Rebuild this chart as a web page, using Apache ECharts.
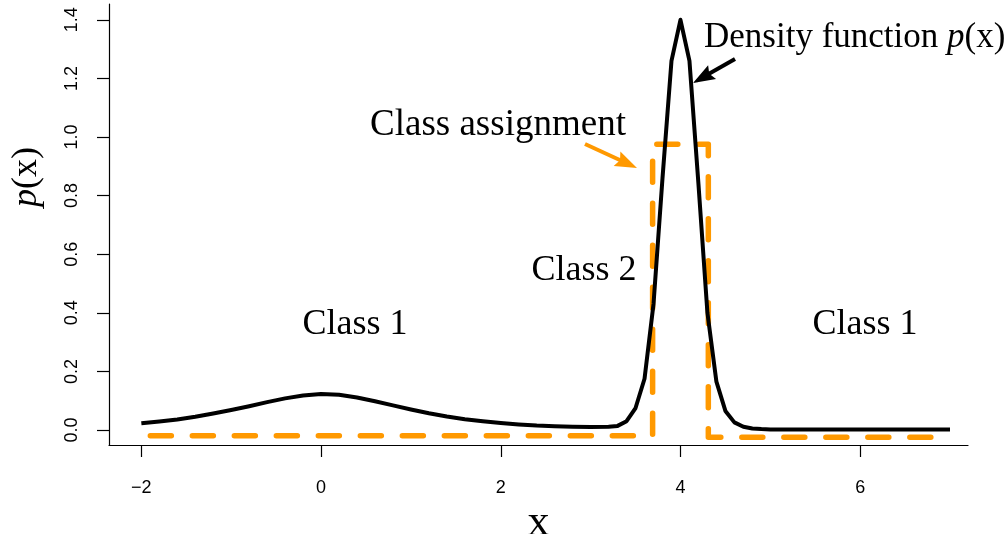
<!DOCTYPE html>
<html>
<head>
<meta charset="utf-8">
<script src="https://cdn.jsdelivr.net/npm/echarts@6/dist/echarts.min.js"></script>
<style>
  html, body { margin: 0; padding: 0; background: #fff; }
  #chart { width: 1008px; height: 534px; }
</style>
</head>
<body>
<div id="chart"></div>
<script>
// Mixture density p(x): broad component around 0, narrow peak at 4
const densityX = [-2.0, -1.8, -1.6, -1.4, -1.2, -1.0, -0.8, -0.6, -0.4, -0.2,
                  0.0, 0.2, 0.4, 0.6, 0.8, 1.0, 1.2, 1.4, 1.6, 1.8,
                  2.0, 2.2, 2.4, 2.6, 2.8, 3.0, 3.2, 3.3, 3.4, 3.5,
                  3.6, 3.7, 3.8, 3.9, 4.0, 4.1, 4.2, 4.3, 4.4, 4.5,
                  4.6, 4.7, 4.8, 4.9, 5.0, 6.0, 7.0];
const densityY = [0.023, 0.029, 0.036, 0.045, 0.056, 0.068, 0.081, 0.095, 0.108, 0.118,
                  0.123, 0.120, 0.111, 0.098, 0.084, 0.070, 0.057, 0.046, 0.037, 0.030,
                  0.024, 0.019, 0.015, 0.013, 0.011, 0.010, 0.011, 0.014, 0.030, 0.075,
                  0.175, 0.430, 0.860, 1.260, 1.400, 1.260, 0.840, 0.400, 0.165, 0.065,
                  0.026, 0.011, 0.005, 0.003, 0.002, 0.002, 0.002];

// Class assignment (drawn slightly offset from 0 / 1)
const classX = [-1.9, 3.69, 3.69, 4.31, 4.31, 6.9];
const classY = [-0.02, -0.02, 0.975, 0.975, -0.025, -0.025];

// Axis ticks
const xTicks = [-2, 0, 2, 4, 6];
const yTicks = [0, 0.2, 0.4, 0.6, 0.8, 1.0, 1.2, 1.4];

const ORANGE = '#FF9900';
const SERIF = 'Liberation Serif';
const SANS = 'Liberation Sans';

function pairs(xs, ys) { return xs.map((x, i) => [x, ys[i]]); }

// Filled arrow (shaft + triangular head) in pixel space
function arrow(x1, y1, x2, y2, color, width, headLen, headHalf) {
  const dx = x2 - x1, dy = y2 - y1;
  const len = Math.sqrt(dx * dx + dy * dy);
  const ux = dx / len, uy = dy / len;
  const nx = -uy, ny = ux;
  const bx = x2 - ux * headLen, by = y2 - uy * headLen;
  const notch = headLen * 0.15;
  return [
    { type: 'line', silent: true, z: 50,
      shape: { x1: x1, y1: y1, x2: bx + ux * notch * 2, y2: by + uy * notch * 2 },
      style: { stroke: color, lineWidth: width, lineCap: 'butt' } },
    { type: 'polygon', silent: true, z: 51,
      shape: { points: [[x2, y2],
                        [bx + nx * headHalf, by + ny * headHalf],
                        [bx + ux * notch, by + uy * notch],
                        [bx - nx * headHalf, by - ny * headHalf]] },
      style: { fill: color } }
  ];
}

function label(text, x, y, align, size) {
  const fs = size || 36;
  return { type: 'text', silent: true, z: 60, x: x, y: y,
    style: { text: text, fill: '#000', fontFamily: SERIF, fontSize: fs,
             align: align || 'center', verticalAlign: 'middle',
             rich: { i: { fontFamily: SERIF, fontStyle: 'italic', fontSize: fs },
                     r: { fontFamily: SERIF, fontSize: fs } } } };
}

const chart = echarts.init(document.getElementById('chart'), null, { renderer: 'canvas' });

chart.setOption({
  animation: false,
  backgroundColor: '#fff',
  grid: { left: 109, right: 40, top: 4, bottom: 89, containLabel: false, outerBoundsMode: 'none' },
  xAxis: {
    type: 'value', min: -2.36, max: 7.2,
    axisLine: { show: true, onZero: false, lineStyle: { color: '#000', width: 1.2 } },
    axisTick: { show: true, customValues: xTicks, length: 12, lineStyle: { color: '#000', width: 1.2 } },
    axisLabel: { customValues: xTicks, margin: 34, color: '#000', fontFamily: SANS, fontSize: 18,
                 formatter: v => (v < 0 ? '\u2212' + Math.abs(v) : String(v)) },
    splitLine: { show: false },
    name: 'x', nameLocation: 'middle', nameGap: 40,
    nameTextStyle: { fontFamily: SERIF, fontSize: 44, color: '#000' }
  },
  yAxis: {
    type: 'value', min: -0.0512, max: 1.454,
    axisLine: { show: true, onZero: false, lineStyle: { color: '#000', width: 1.2 } },
    axisTick: { show: true, customValues: yTicks, length: 12, lineStyle: { color: '#000', width: 1.2 } },
    axisLabel: { customValues: yTicks, rotate: 90, margin: 28, color: '#000', fontFamily: SANS, fontSize: 18,
                 formatter: v => v.toFixed(1) },
    splitLine: { show: false }
  },
  series: [
    {
      name: 'Class assignment', type: 'line', data: pairs(classX, classY),
      showSymbol: false, silent: true, z: 2,
      lineStyle: { color: ORANGE, width: 5.5, type: [21, 21], cap: 'round', join: 'round' }
    },
    {
      name: 'Density function', type: 'line', data: pairs(densityX, densityY),
      showSymbol: false, silent: true, z: 3,
      lineStyle: { color: '#000', width: 4, join: 'round' }
    }
  ],
  graphic: [
    label('{r|Density function }{i|p}{r|(x)}', 704, 38, 'left', 35),
    label('Class assignment', 370, 125, 'left', 37),
    label('Class 2', 584, 271),
    label('Class 1', 355, 325),
    label('Class 1', 865, 325),
    { type: 'text', silent: true, x: 27, y: 177, rotation: Math.PI / 2,
      style: { text: '{i|p}{r|(x)}', fill: '#000', align: 'center', verticalAlign: 'middle',
               rich: { i: { fontFamily: SERIF, fontStyle: 'italic', fontSize: 36 },
                       r: { fontFamily: SERIF, fontSize: 36 } } } },
    ...arrow(735, 59, 693, 83, '#000', 4, 22, 8),
    ...arrow(585, 144, 637, 168, ORANGE, 4, 22, 8)
  ]
});
</script>
</body>
</html>
